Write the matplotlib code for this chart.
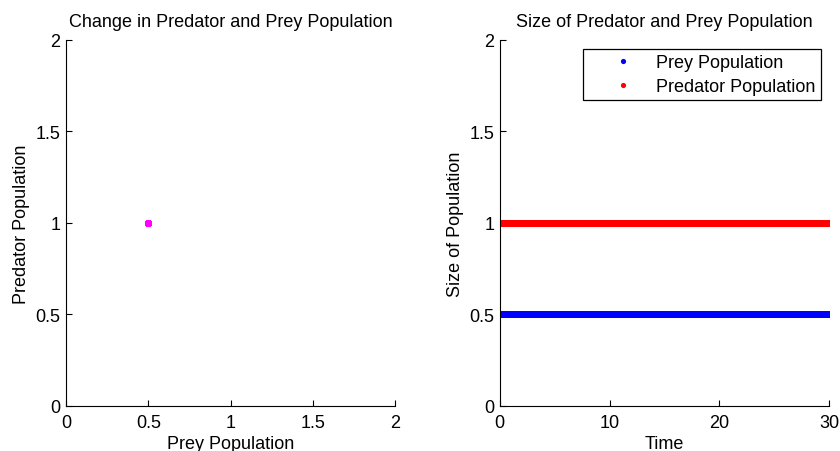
import matplotlib.pyplot as plt
import numpy as np

plt.rcParams['font.family'] = ['Liberation Sans', 'DejaVu Sans']

# equilibrium state of the system (constant over time)
prey_level = 0.5
predator_level = 1.0
t_start, t_end, n_steps = 0, 30, 301

time = np.linspace(t_start, t_end, n_steps)
prey = np.full(n_steps, prey_level)
predator = np.full(n_steps, predator_level)

left_ticks = [0, 0.5, 1, 1.5, 2]
left_ticklabels = ['0', '0.5', '1', '1.5', '2']
time_ticks = [0, 10, 20, 30]

fig = plt.figure(figsize=(8.4, 4.52), dpi=100)
ax1 = fig.add_axes([0.0786, 0.0996, 0.392, 0.81])
ax2 = fig.add_axes([0.595, 0.0996, 0.392, 0.81])

ax1.plot(prey, predator, 'o', color='magenta', markersize=4.8, markeredgewidth=0)
ax1.set_xlim(0, 2)
ax1.set_ylim(0, 2)
ax1.set_xticks(left_ticks)
ax1.set_xticklabels(left_ticklabels)
ax1.set_yticks(left_ticks)
ax1.set_yticklabels(left_ticklabels)
ax1.set_xlabel('Prey Population', fontsize=13, labelpad=3)
ax1.set_ylabel('Predator Population', fontsize=13, labelpad=4)
ax1.set_title('Change in Predator and Prey Population', fontsize=13, pad=10)

ax2.plot(time, prey, 'o', color='blue', markersize=5, markeredgewidth=0,
         label='Prey Population')
ax2.plot(time, predator, 'o', color='red', markersize=5, markeredgewidth=0,
         label='Predator Population')
ax2.set_xlim(0, 30)
ax2.set_ylim(0, 2)
ax2.set_xticks(time_ticks)
ax2.set_yticks(left_ticks)
ax2.set_yticklabels(left_ticklabels)
ax2.set_xlabel('Time', fontsize=13, labelpad=3)
ax2.set_ylabel('Size of Population', fontsize=13, labelpad=4)
ax2.set_title('Size of Predator and Prey Population', fontsize=13, pad=10)
leg = ax2.legend(loc='upper right', bbox_to_anchor=(0.975, 0.976), fontsize=13,
                 fancybox=False, framealpha=1, edgecolor='black',
                 borderaxespad=0, borderpad=0.3, labelspacing=0.38,
                 handlelength=3.8, handletextpad=-0.08, markerscale=0.75)
leg.get_frame().set_linewidth(0.9)

for ax in (ax1, ax2):
    ax.spines['top'].set_visible(False)
    ax.spines['right'].set_visible(False)
    ax.tick_params(direction='in', length=4, labelsize=13)
    ax.tick_params(axis='x', pad=6)
    ax.tick_params(axis='y', pad=4)

fig.savefig('out.png', dpi=100)
